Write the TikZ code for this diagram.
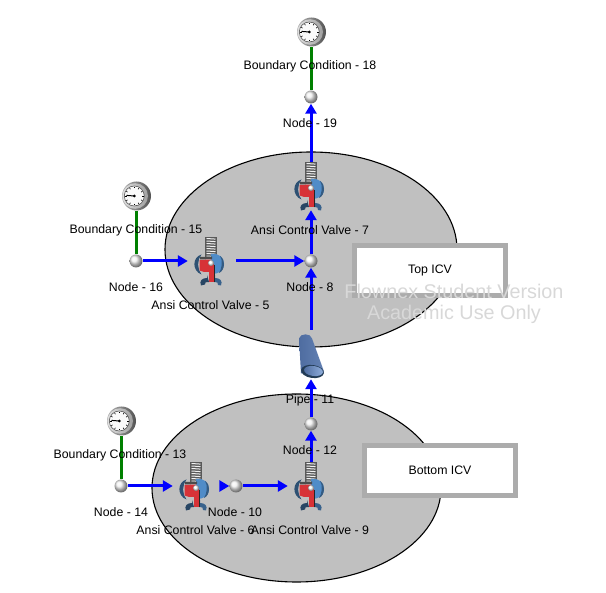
\documentclass[tikz,border=0pt]{standalone}
\usepackage{fontspec}
\setmainfont{Liberation Sans}
\usetikzlibrary{arrows.meta}
\definecolor{tank}{RGB}{192,192,192}
\definecolor{flow}{RGB}{0,0,255}
\definecolor{link}{RGB}{0,128,0}
\definecolor{frame}{RGB}{172,172,172}
\definecolor{water}{RGB}{216,216,216}
\definecolor{vblue}{RGB}{80,140,200}
\definecolor{vdark}{RGB}{40,70,100}
\definecolor{vred}{RGB}{215,50,55}
\definecolor{pipeA}{RGB}{78,108,160}
\definecolor{pipeB}{RGB}{145,175,220}
\definecolor{pipeC}{RGB}{100,130,180}
\tikzset{
  x=1pt,y=-1pt,
  tankshape/.style={draw=black,line width=1.1pt,fill=tank},
  flowline/.style={draw=flow,line width=3pt,-{Triangle[length=10pt,width=11pt]}},
  gaugeline/.style={draw=link,line width=3pt},
  ballnode/.style={circle,minimum size=13pt,inner sep=0pt,shade,ball color=gray!12,draw=none},
  valvenode/.style={rectangle,minimum width=48pt,minimum height=48pt,inner sep=0pt},
  pipenode/.style={rectangle,minimum width=26pt,minimum height=49pt,inner sep=0pt},
  gaugenode/.style={circle,minimum size=30pt,inner sep=0pt},
  lbl/.style={font=\fontsize{12.3pt}{14pt}\selectfont,text=black,inner sep=0pt},
  framebox/.style={draw=frame,line width=5pt,fill=white,minimum width=151pt,minimum height=50pt,inner sep=0pt,font=\fontsize{12.3pt}{14pt}\selectfont},
  markfont/.style={font=\fontsize{19.8pt}{22pt}\selectfont,text=water,inner sep=0pt},
  valvepic/.pic={
    % spring housing
    \fill[gray!70!black] (-6,-24) rectangle (6,-4);
    \foreach \k in {-22.5,-20,...,-5}{\draw[white!90!gray,line width=1pt] (-4.5,\k) -- (4.5,\k+.6);}
    % right bowl
    \fill[vblue] (0,-7) .. controls (9,-8) and (13,-3) .. (13,3) .. controls (13,9) and (9,13) .. (0,13) -- cycle;
    \fill[vdark!70!vblue] (9,-5) .. controls (12,-3) and (13,0) .. (13,3) .. controls (13,7) and (11,11) .. (8,12) .. controls (11,8) and (12,-1) .. (9,-5);
    % left C
    \fill[vdark!85!vblue] (-9.5,-6.5) .. controls (-19,-4) and (-19,10) .. (-9.5,13.5) .. controls (-14,8) and (-14,-1) .. (-9.5,-6.5);
    \fill[gray!60!black] (-11,-4) -- (1,-4.5) -- (1,-2) -- (-11,-1.5) -- cycle;
    % feet
    \fill[vdark] (-4,14) -- (-4,17) .. controls (-9,17) and (-12,20) .. (-10,24.5) -- (-6,23.5) .. controls (-7,21.5) and (-5,21) .. (-2,21) -- cycle;
    \fill[vdark!60!vblue] (4,14) -- (4,17) .. controls (9,17) and (12,20) .. (10,24.5) -- (7,24) .. controls (8,22) and (6,21) .. (3,21) -- cycle;
    % red chamber
    \fill[vred] (-11.5,-1) -- (0,-1.5) -- (0,11) -- (-7,11) -- (-11.5,9.5) -- cycle;
    \fill[vred] (-2,3) rectangle (3,21);
    \draw[gray!30!black,line width=.6pt] (3.3,4) -- (3.3,21);
    % ball
    \shade[ball color=white] (0,2) circle (3);
  },
  gaugepic/.pic={
    \shade[left color=gray!60,right color=gray!65!black] (.5,0) circle (14.5);
    \shade[left color=gray!25,right color=gray!75] (-.8,0) circle (12.8);
    \fill[white!96!gray] (-1.7,0) circle (10);
    \draw[gray!50!black,line width=.5pt] (-1.7,0) circle (10);
    \foreach \a in {0,30,...,330}{\draw[black,line width=.6pt] (-1.7,0) ++(\a:7.8) -- ++(\a:1.5);}
    \draw[black,line width=1pt] (-9.5,-.6) -- (-1.7,0);
    \fill[black] (-1.7,0) circle (1.5);
  },
  pipepic/.pic={
    \shade[left color=pipeA,middle color=pipeB,right color=pipeC]
      (-12,-16) .. controls (-11,-21.5) and (0,-21.5) .. (1,-16) -- (13,17) -- (-10,19) -- cycle;
    \fill[vdark!85!black] (1.5,17) ellipse [x radius=11.5,y radius=6.5,rotate=-8];
    \shade[left color=pipeA,right color=pipeB] (2.5,16.5) ellipse [x radius=9.5,y radius=5,rotate=-8];
  }
}
\begin{document}
\begin{tikzpicture}
\useasboundingbox (0,0) rectangle (606,593);
% tanks
\path[tankshape] (311,249.5) ellipse [x radius=146,y radius=97.5];
\path[tankshape] (296.5,488) ellipse [x radius=144.5,y radius=94];
% frames
\node[framebox] (topicv) at (430,270.5) {Top ICV};
\node[framebox] (boticv) at (440,470.5) {Bottom ICV};
% components
\node[ballnode] (n19) at (311,97) {};
\node[ballnode] (n16) at (136,261) {};
\node[ballnode] (n8) at (311,261) {};
\node[ballnode] (n12) at (311,424) {};
\node[ballnode] (n14) at (121,486) {};
\node[ballnode] (n10) at (236,486) {};
\node[valvenode] (v7) at (312,186) {};
\node[valvenode] (v5) at (212,261) {};
\node[valvenode] (v6) at (197,486) {};
\node[valvenode] (v9) at (312,486) {};
\node[pipenode] (p11) at (311,354.5) {};
\node[gaugenode] (g18) at (311,32) {};
\node[gaugenode] (g15) at (136,196) {};
\node[gaugenode] (g13) at (121,421) {};
% connectors
\draw[gaugeline] (g18) -- (n19);
\draw[gaugeline] (g15) -- (n16);
\draw[gaugeline] (g13) -- (n14);
\draw[flowline] (n16) -- (v5);
\draw[flowline] (v5) -- (n8);
\draw[flowline] (n8) -- (n8 |- v7.south);
\draw[flowline] (n8 |- v7.north) -- (n19);
\draw[flowline] (n8 |- p11.north) -- (n8);
\draw[flowline] (n12) -- (n12 |- p11.south);
\draw[flowline] (n12 |- v9.north) -- (n12);
\draw[flowline] (n14) -- (v6);
\draw[flowline] (v6) -- (n10);
\draw[flowline] (n10) -- (v9);
% symbols
\pic at (211,261) {valvepic};
\pic at (196,486) {valvepic};
\pic at (311,486) {valvepic};
\pic at (311,186) {valvepic};
\pic at (311,354.5) {pipepic};
\pic at (311,32) {gaugepic};
\pic at (136,196) {gaugepic};
\pic at (121,421) {gaugepic};
% labels
\node[lbl] (l18) at (310,66.5) {Boundary Condition - 18};
\node[lbl] (l19) at (310,123.5) {Node - 19};
\node[lbl] (l15) at (136,230.5) {Boundary Condition - 15};
\node[lbl] (l16) at (136,287.5) {Node - 16};
\node[lbl] (l5) at (210.5,305.5) {Ansi Control Valve - 5};
\node[lbl] (l7) at (310,230.5) {Ansi Control Valve - 7};
\node[lbl] (l8) at (310,287.5) {Node - 8};
\node[lbl] (l11) at (310,400.5) {Pipe - 11};
\node[lbl] (l12) at (310,450.5) {Node - 12};
\node[lbl] (l13) at (120,455.5) {Boundary Condition - 13};
\node[lbl] (l14) at (121,512.5) {Node - 14};
\node[lbl] (l10) at (235,512.5) {Node - 10};
\node[lbl] (l6) at (195.5,530.5) {Ansi Control Valve - 6};
\node[lbl] (l9) at (310,530.5) {Ansi Control Valve - 9};
% watermark
\node[markfont] (w1) at (454,291.5) {Flownex Student Version};
\node[markfont] (w2) at (454,314.5) {Academic Use Only};
\end{tikzpicture}
\end{document}
